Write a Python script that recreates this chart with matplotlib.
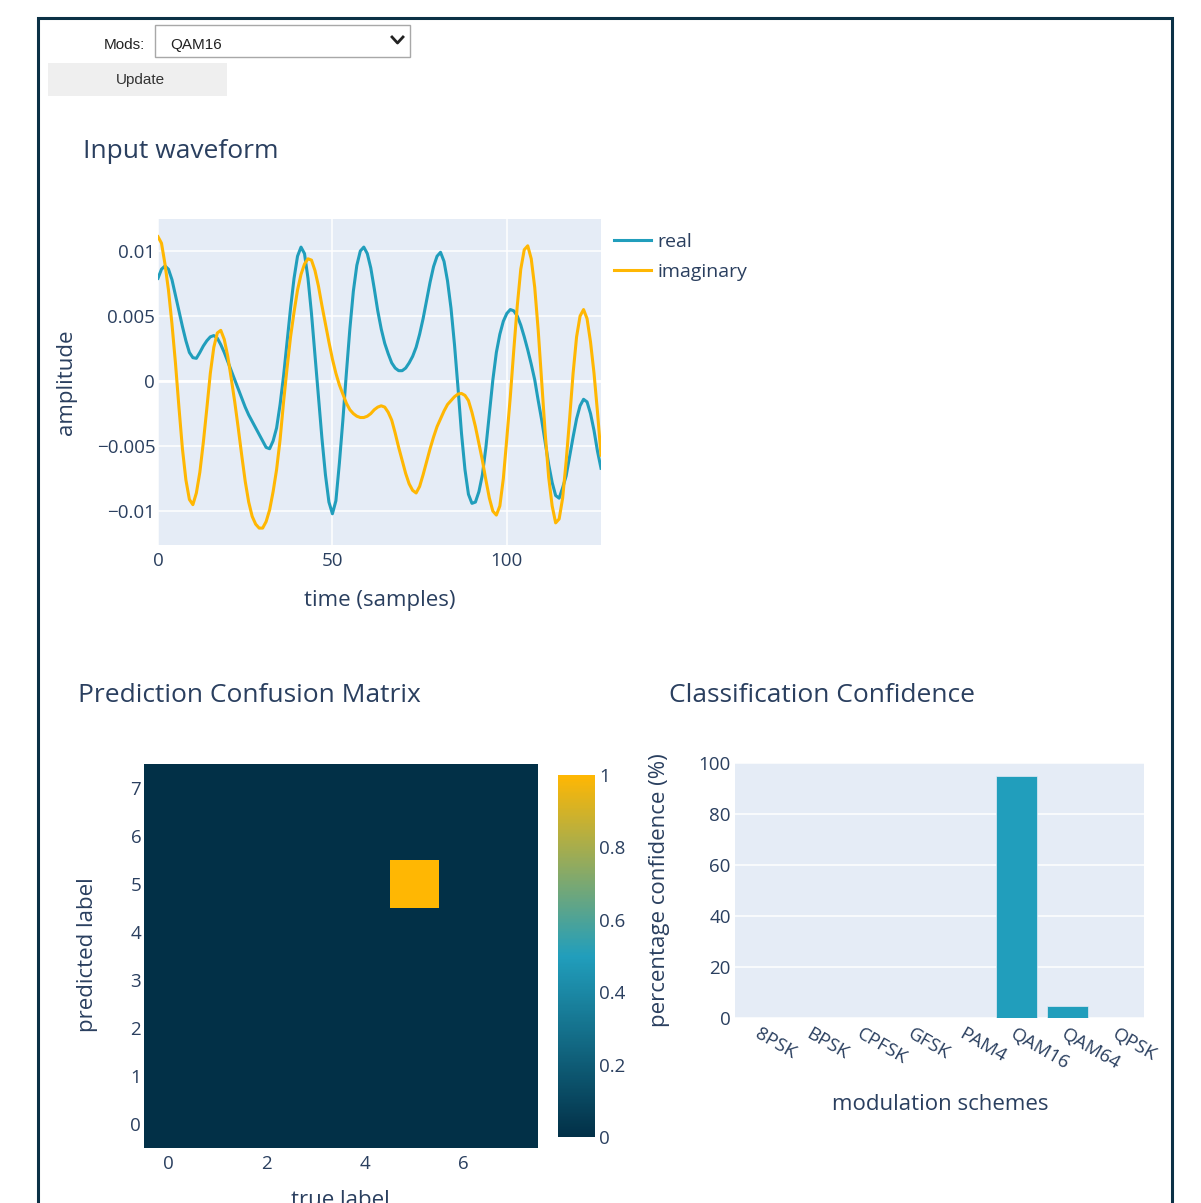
import matplotlib.pyplot as plt
from matplotlib.colors import LinearSegmentedColormap
from matplotlib.patches import Rectangle
from matplotlib.lines import Line2D

# ---- data ----
selected_mod = "QAM16"

# waveform, 128 samples, values in units of 1e-3
samples = list(range(128))
real_milli = [
    7.9, 8.6, 8.85, 8.6, 7.8, 6.6, 5.4, 4.2, 3.1, 2.2,
    1.8, 1.75, 2.2, 2.7, 3.1, 3.4, 3.5, 3.3, 2.8, 2.2,
    1.5, 0.8, 0.1, -0.6, -1.3, -2.0, -2.6, -3.1, -3.6, -4.1,
    -4.6, -5.1, -5.2, -4.6, -3.6, -1.8, 0.4, 3.0, 5.6, 7.9,
    9.6, 10.3, 9.8, 7.9, 5.2, 2.0, -1.3, -4.4, -7.2, -9.3,
    -10.2, -9.2, -6.3, -3.0, 0.6, 4.0, 6.9, 8.9, 10.0, 10.3,
    9.8, 8.7, 7.1, 5.4, 4.0, 2.9, 2.1, 1.4, 1.0, 0.8,
    0.8, 1.0, 1.4, 1.9, 2.6, 3.6, 4.8, 6.2, 7.6, 8.8,
    9.6, 9.9, 9.2, 7.7, 5.6, 2.8, -0.5, -4.0, -6.8, -8.7,
    -9.4, -9.3, -8.5, -7.2, -5.1, -2.5, 0.1, 2.2, 3.6, 4.6,
    5.2, 5.5, 5.4, 5.0, 4.3, 3.4, 2.4, 1.3, 0.1, -1.5,
    -3.0, -4.7, -6.4, -7.8, -8.8, -9.0, -8.2, -7.3, -5.8, -4.3,
    -2.9, -1.9, -1.4, -1.6, -2.5, -3.8, -5.4, -6.7,
]
imag_milli = [
    11.1, 10.6, 9.0, 7.0, 4.4, 1.4, -2.0, -5.2, -7.6, -9.1,
    -9.5, -8.6, -7.0, -4.7, -2.1, 0.6, 2.6, 3.7, 3.9, 3.2,
    1.9, 0.2, -1.6, -3.6, -5.7, -7.7, -9.3, -10.4, -11.0, -11.3,
    -11.3, -10.8, -9.9, -8.5, -6.8, -4.5, -1.6, 1.0, 3.4, 5.3,
    7.0, 8.2, 9.0, 9.4, 9.3, 8.5, 7.3, 5.8, 4.4, 3.0,
    1.7, 0.6, -0.3, -1.0, -1.7, -2.2, -2.5, -2.7, -2.8, -2.8,
    -2.7, -2.5, -2.2, -2.0, -1.9, -2.0, -2.4, -3.0, -4.0, -5.1,
    -6.1, -7.1, -7.9, -8.4, -8.6, -8.1, -7.2, -6.2, -5.2, -4.3,
    -3.5, -2.9, -2.3, -1.8, -1.5, -1.2, -1.0, -0.95, -1.1, -1.5,
    -2.4, -3.5, -4.8, -6.1, -7.6, -9.0, -10.0, -10.3, -9.6, -7.5,
    -4.4, -1.2, 2.4, 5.8, 8.6, 10.1, 10.4, 9.4, 7.2, 3.9,
    0.0, -4.0, -7.4, -9.6, -10.9, -10.6, -9.0, -6.2, -2.9, 0.6,
    3.4, 5.0, 5.5, 4.8, 3.0, 0.6, -2.4, -5.7,
]
real = [v / 1000 for v in real_milli]
imag = [v / 1000 for v in imag_milli]

wave_xticks = [0, 50, 100]
wave_yticks = [-0.01, -0.005, 0, 0.005, 0.01]
wave_yticklabels = ["\u22120.01", "\u22120.005", "0", "0.005", "0.01"]

# confusion matrix, rows = predicted label, cols = true label
confusion = [
    [0, 0, 0, 0, 0, 0, 0, 0],
    [0, 0, 0, 0, 0, 0, 0, 0],
    [0, 0, 0, 0, 0, 0, 0, 0],
    [0, 0, 0, 0, 0, 0, 0, 0],
    [0, 0, 0, 0, 0, 0, 0, 0],
    [0, 0, 0, 0, 0, 1, 0, 0],
    [0, 0, 0, 0, 0, 0, 0, 0],
    [0, 0, 0, 0, 0, 0, 0, 0],
]
cm_xticks = [0, 2, 4, 6]
cm_yticks = [0, 1, 2, 3, 4, 5, 6, 7]
cbar_ticks = [0, 0.2, 0.4, 0.6, 0.8, 1]
cbar_labels = ["0", "0.2", "0.4", "0.6", "0.8", "1"]

mods = ["8PSK", "BPSK", "CPFSK", "GFSK", "PAM4", "QAM16", "QAM64", "QPSK"]
confidence = [0, 0, 0, 0, 0, 94.9, 4.7, 0]
conf_yticks = [0, 20, 40, 60, 80, 100]

# ---- styling ----
W, H = 1201, 1203
TXT = "#2a3f5f"
BG = "#E5ECF6"
C_REAL = "#219EBC"
C_IMAG = "#FFB703"
plt.rcParams["font.family"] = ["Open Sans", "DejaVu Sans"]
TITLE_FS = 19
LABEL_FS = 16
TICK_FS = 13.5


def box(x0, y0, x1, y1):
    # pixel box (top-left origin) -> figure fraction rect
    return [x0 / W, 1 - y1 / H, (x1 - x0) / W, (y1 - y0) / H]


def fx(x):
    return x / W


def fy(y):
    return 1 - y / H


fig = plt.figure(figsize=(W / 100, H / 100), dpi=100)

# page frame
fig.add_artist(Rectangle((fx(38), -0.05), fx(1172) - fx(38), fy(18) + 0.05,
                         transform=fig.transFigure, fill=False,
                         edgecolor="#0b3146", linewidth=2.2))

# dropdown + button
fig.add_artist(Rectangle((fx(155), fy(57)), fx(410) - fx(155), fy(25) - fy(57),
                         transform=fig.transFigure, facecolor="white",
                         edgecolor="#a8a8a8", linewidth=1))
fig.text(fx(145), fy(45), "Mods:", ha="right", va="center", fontsize=11,
         family="Liberation Sans", color="#222222")
fig.text(fx(170), fy(45), selected_mod, ha="left", va="center", fontsize=11,
         family="Liberation Sans", color="#222222")
fig.add_artist(Line2D([fx(392), fx(397.5), fx(403)], [fy(37), fy(43), fy(37)],
                      transform=fig.transFigure, color="#222222", linewidth=2))
fig.add_artist(Rectangle((fx(48), fy(96)), fx(227) - fx(48), fy(63) - fy(96),
                         transform=fig.transFigure, facecolor="#efefef",
                         edgecolor="none"))
fig.text(fx(140), fy(80), "Update", ha="center", va="center", fontsize=11,
         family="Liberation Sans", color="#333333")

# ---- input waveform ----
fig.text(fx(83), fy(152), "Input waveform", fontsize=TITLE_FS, color=TXT,
         va="center")
ax1 = fig.add_axes(box(158, 219, 601, 545))
ax1.set_facecolor(BG)
ax1.set_axisbelow(True)
ax1.grid(color="white", linewidth=1.1)
ax1.axhline(0, color="white", linewidth=2, zorder=1)
ax1.plot(samples, real, color=C_REAL, linewidth=2.2, label="real", zorder=3)
ax1.plot(samples, imag, color=C_IMAG, linewidth=2.2, label="imaginary", zorder=3)
ax1.set_xlim(0, 127)
ax1.set_ylim(-0.0126, 0.01246)
ax1.set_xticks(wave_xticks)
ax1.set_xticklabels([str(t) for t in wave_xticks])
ax1.set_yticks(wave_yticks)
ax1.set_yticklabels(wave_yticklabels)
ax1.tick_params(length=0, labelsize=TICK_FS, labelcolor=TXT)
ax1.tick_params(axis="x", pad=5)
ax1.tick_params(axis="y", pad=2)
for s in ax1.spines.values():
    s.set_visible(False)
fig.text(fx(66), fy(382), "amplitude", rotation=90, fontsize=LABEL_FS,
         color=TXT, ha="center", va="center")
fig.text(fx(380), fy(601), "time (samples)", fontsize=LABEL_FS, color=TXT,
         ha="center", va="center")
leg = ax1.legend(loc="upper left", bbox_to_anchor=(fx(614), fy(233)),
                 bbox_transform=fig.transFigure, frameon=False, fontsize=14,
                 handlelength=1.9, handletextpad=0.35, borderpad=0,
                 borderaxespad=0, labelspacing=0.6)
for t in leg.get_texts():
    t.set_color(TXT)

# ---- confusion matrix ----
fig.text(fx(78), fy(695), "Prediction Confusion Matrix", fontsize=TITLE_FS,
         color=TXT, va="center")
cmap = LinearSegmentedColormap.from_list("cm", ["#023047", C_REAL, C_IMAG])
ax2 = fig.add_axes(box(144, 764, 537, 1148))
im = ax2.imshow(confusion, cmap=cmap, vmin=0, vmax=1, origin="lower",
                aspect="auto", interpolation="nearest")
ax2.set_xticks(cm_xticks)
ax2.set_yticks(cm_yticks)
ax2.tick_params(length=0, labelsize=TICK_FS, labelcolor=TXT)
ax2.tick_params(axis="x", pad=5)
ax2.tick_params(axis="y", pad=2)
for s in ax2.spines.values():
    s.set_visible(False)
cax = fig.add_axes(box(558, 775, 595, 1137))
cb = fig.colorbar(im, cax=cax, ticks=cbar_ticks)
cb.set_ticklabels(cbar_labels)
cb.outline.set_visible(False)
cax.tick_params(length=0, pad=3, labelsize=TICK_FS, labelcolor=TXT)
fig.text(fx(88), fy(955), "predicted label", rotation=90, fontsize=LABEL_FS,
         color=TXT, ha="center", va="center")
# the axis title sits at the very bottom edge of the page, partly cut, as on screen
fig.text(fx(340), fy(1201), "true label", fontsize=LABEL_FS, color=TXT,
         ha="center", va="center")

# ---- classification confidence ----
fig.text(fx(669), fy(695), "Classification Confidence", fontsize=TITLE_FS,
         color=TXT, va="center")
ax3 = fig.add_axes(box(735, 763, 1144, 1018))
ax3.set_facecolor(BG)
ax3.set_axisbelow(True)
ax3.grid(axis="y", color="white", linewidth=1.1)
ax3.bar(range(len(mods)), confidence, width=0.8, color=C_REAL,
        edgecolor=BG, linewidth=0.5)
ax3.set_xlim(-0.5, len(mods) - 0.5)
ax3.set_ylim(0, 100)
ax3.set_yticks(conf_yticks)
ax3.set_xticks(range(len(mods)))
ax3.set_xticklabels(mods, rotation=-30, ha="left", va="top",
                    rotation_mode="anchor")
ax3.tick_params(length=0, labelsize=TICK_FS, labelcolor=TXT)
ax3.tick_params(axis="x", pad=5)
ax3.tick_params(axis="y", pad=3)
for s in ax3.spines.values():
    s.set_visible(False)
fig.text(fx(659), fy(890), "percentage confidence (%)", rotation=90,
         fontsize=LABEL_FS, color=TXT, ha="center", va="center")
fig.text(fx(940), fy(1104), "modulation schemes", fontsize=LABEL_FS, color=TXT,
         ha="center", va="center")

plt.savefig("out.png", dpi=100)
